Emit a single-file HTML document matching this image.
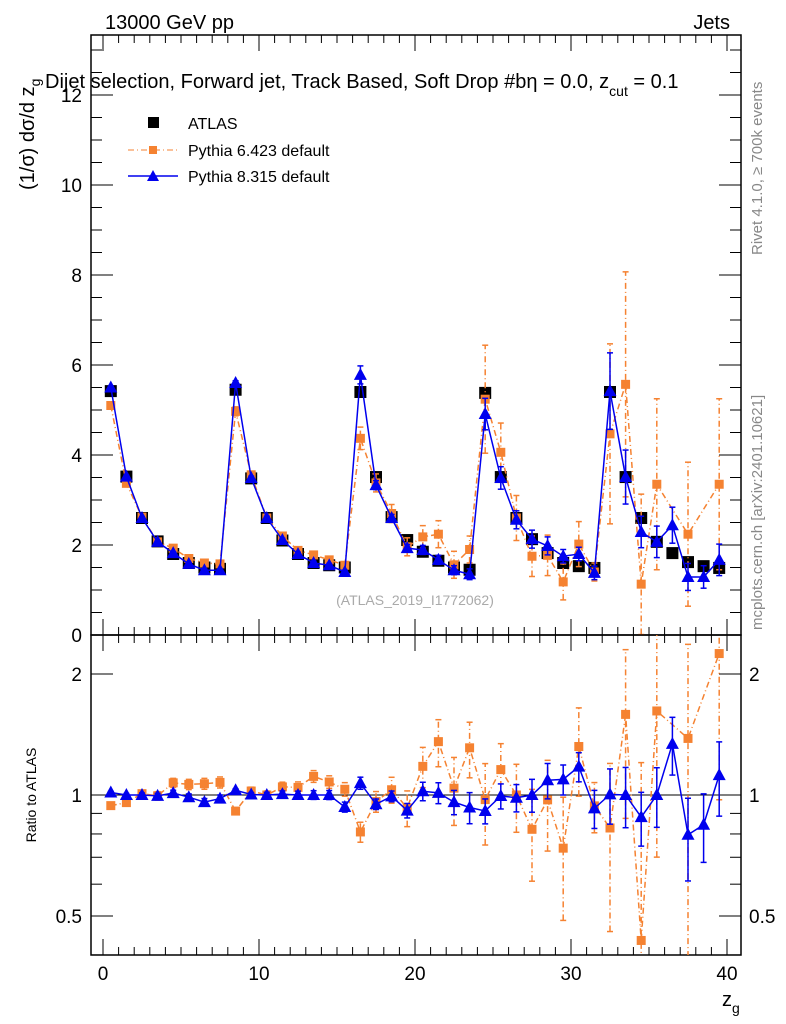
<!DOCTYPE html>
<html><head><meta charset="utf-8"><style>
html,body{margin:0;padding:0;background:#fff;overflow:hidden;width:786px;height:1024px;}
svg{display:block;font-family:"Liberation Sans",sans-serif;}
</style></head><body>
<svg id="chart" width="786" height="1024" viewBox="0 0 786 1024">
<defs id="defs"></defs>
<rect width="786" height="1024" fill="#fff"/>
<text x="105" y="29" font-size="20">13000 GeV pp</text>
<text x="730" y="29" font-size="20" text-anchor="end">Jets</text>
<g id="main"></g>
<g id="ratio"></g>
<text x="45" y="88" font-size="20">Dijet selection, Forward jet, Track Based, Soft Drop #b<tspan>η</tspan> = 0.0, z<tspan font-size="14" dy="8">cut</tspan><tspan dy="-8"> = 0.1</tspan></text>
<text transform="translate(34,190) rotate(-90)" font-size="20">(1/σ) dσ/d z<tspan font-size="14" dy="6">g</tspan></text>
<text transform="translate(36,795) rotate(-90)" font-size="14" text-anchor="middle">Ratio to ATLAS</text>
<text x="722" y="1006" font-size="20">z<tspan font-size="14" dy="7">g</tspan></text>
<text transform="translate(762,255) rotate(-90)" font-size="15" fill="#888">Rivet 4.1.0, ≥ 700k events</text>
<text transform="translate(762,630) rotate(-90)" font-size="15" fill="#888">mcplots.cern.ch [arXiv:2401.10621]</text>
<text x="415" y="605" font-size="14" fill="#aaa" text-anchor="middle">(ATLAS_2019_I1772062)</text>
<g>
<rect x="148" y="117" width="11" height="11" fill="#000"/>
<text x="188" y="129" font-size="16">ATLAS</text>
<line x1="128" y1="150" x2="178" y2="150" stroke="#f58231" stroke-dasharray="6,3,1,3"/>
<rect x="149" y="146" width="8" height="8" fill="#f58231"/>
<text x="188" y="156" font-size="16">Pythia 6.423 default</text>
<line x1="128" y1="176" x2="178" y2="176" stroke="#0000ee" stroke-width="1.5"/>
<path d="M153,170 L159,181 L147,181 Z" fill="#0000ee"/>
<text x="188" y="182" font-size="16">Pythia 8.315 default</text>
</g>
</svg>
<script>
const xCenters = [0.5,1.5,2.5,3.5,4.5,5.5,6.5,7.5,8.5,9.5,10.5,11.5,12.5,13.5,14.5,15.5,16.5,17.5,18.5,19.5,20.5,21.5,22.5,23.5,24.5,25.5,26.5,27.5,28.5,29.5,30.5,31.5,32.5,33.5,34.5,35.5,36.5,37.5,38.5,39.5];
const atlasVals = [5.42,3.52,2.6,2.08,1.8,1.6,1.5,1.47, 5.45,3.48,2.6,2.1,1.8,1.6,1.55,1.5, 5.4,3.51,2.62,2.11,1.85,1.65,1.5,1.45, 5.38,3.51,2.6,2.13,1.82,1.6,1.53,1.49, 5.4,3.51,2.6,2.07,1.82,1.62,1.53,1.49];
const py6Vals = [5.1,3.37,2.62,2.07,1.93,1.7,1.6,1.58, 4.97,3.56,2.6,2.2,1.88,1.78,1.67,1.55, 4.37,3.38,2.7,1.96,2.18,2.24,1.56,1.9, 5.24,4.06,2.6,1.75,1.77,1.18,2.02,1.4, 4.47,5.57,1.13,3.35,null,2.24,null,3.35];
const py6Errs = [0.05,0.05,0.05,0.05,0.05,0.05,0.05,0.05, 0.1,0.08,0.06,0.06,0.06,0.06,0.06,0.06, 0.25,0.2,0.2,0.2,0.25,0.3,0.3,0.3, 1.2,0.65,0.5,0.45,0.45,0.4,0.5,0.2, 2.0,2.5,2.0,1.9,0,1.6,0,1.9];
const py8Vals = [5.5,3.52,2.6,2.07,1.82,1.58,1.44,1.44, 5.6,3.49,2.6,2.11,1.8,1.6,1.55,1.4, 5.78,3.33,2.6,1.93,1.89,1.67,1.44,1.35, 4.91,3.49,2.56,2.13,1.98,1.75,1.8,1.38, 5.42,3.51,2.29,2.07,2.44,1.29,1.29,1.67];
const py8Errs = [0.03,0.03,0.03,0.03,0.03,0.03,0.03,0.03, 0.05,0.04,0.04,0.04,0.04,0.04,0.04,0.04, 0.2,0.1,0.08,0.08,0.1,0.1,0.1,0.12, 0.35,0.25,0.2,0.2,0.2,0.15,0.15,0.15, 0.85,0.6,0.35,0.35,0.4,0.3,0.25,0.35];
const mainTicks = [0,2,4,6,8,10,12];
const ratioTicks = [0.5,1,2];
const xTicks = [0,10,20,30,40];

const NS="http://www.w3.org/2000/svg";
const L=91,R=741,MT=35,MB=635,RT=635,RB=955;
const sx=x=>103+15.6*x;
const sy=v=>635-45*v;
const sr=v=>795-121*Math.log2(v);
function mk(parent,tag,attrs){const e=document.createElementNS(NS,tag);for(const k in attrs)e.setAttribute(k,attrs[k]);parent.appendChild(e);return e;}
const main=document.getElementById('main'), ratio=document.getElementById('ratio'), defs=document.getElementById('defs');

function frame(g,top,bot,name){
  const r=mk(g,'rect',{x:L,y:top,width:R-L,height:bot-top,fill:'none',stroke:'#000','stroke-width':1.5});
  
  
  for(let x=0;x<=40;x++){
    const len=(x%10===0)?16:8;
    mk(g,'line',{x1:sx(x),x2:sx(x),y1:bot,y2:bot-len,stroke:'#000'});
    mk(g,'line',{x1:sx(x),x2:sx(x),y1:top,y2:top+len,stroke:'#000'});
  }
}
frame(main,MT,MB,'main-frame');
frame(ratio,RT,RB,'ratio-frame');
for(let v=0;v<=13;v+=0.5){
  const len=(v%2===0)?22:11;
  mk(main,'line',{x1:L,x2:L+len,y1:sy(v),y2:sy(v),stroke:'#000'});
  mk(main,'line',{x1:R,x2:R-len,y1:sy(v),y2:sy(v),stroke:'#000'});
}
mainTicks.forEach(v=>{
  const t=mk(main,'text',{x:82,y:sy(v)+7,'font-size':19,'text-anchor':'end'});t.textContent=v;
  
  
});
[0.4,0.5,0.6,0.7,0.8,0.9,1,2].forEach(v=>{
  const len=(v===0.5||v===1||v===2)?22:11;
  mk(ratio,'line',{x1:L,x2:L+len,y1:sr(v),y2:sr(v),stroke:'#000'});
  mk(ratio,'line',{x1:R,x2:R-len,y1:sr(v),y2:sr(v),stroke:'#000'});
});
ratioTicks.forEach(v=>{
  const t=mk(ratio,'text',{x:82,y:sr(v)+7,'font-size':19,'text-anchor':'end'});t.textContent=v;
  
  
  const t2=mk(ratio,'text',{x:749,y:sr(v)+7,'font-size':19});t2.textContent=v;
  
  
});
xTicks.forEach(v=>{
  const t=mk(ratio,'text',{x:sx(v),y:980,'font-size':19,'text-anchor':'middle'});t.textContent=v;
  
  
});
const one=mk(ratio,'line',{x1:L,x2:R,y1:sr(1),y2:sr(1),stroke:'#000'});



const clipM=mk(defs,'clipPath',{id:'cm'});mk(clipM,'rect',{x:L,y:MT,width:R-L,height:MB-MT});
const clipR=mk(defs,'clipPath',{id:'cr'});mk(clipR,'rect',{x:L,y:RT,width:R-L,height:RB-RT});

function series(g,clip,vals,errs,fy,color,dash,marker,name){
  const s=mk(g,'g',{'clip-path':'url(#'+clip+')'});
  
  
  if(errs) vals.forEach((v,i)=>{
    if(v===null) return;
    const e=errs[i];const x=sx(xCenters[i]);
    const lo=fy(Math.max(v-e,0.01)), hi=fy(v+e);
    mk(s,'line',{x1:x,x2:x,y1:lo,y2:hi,stroke:color,'stroke-width':1.5,'stroke-dasharray':dash||'none'});
    mk(s,'line',{x1:x-3,x2:x+3,y1:lo,y2:lo,stroke:color,'stroke-width':1.5});
    mk(s,'line',{x1:x-3,x2:x+3,y1:hi,y2:hi,stroke:color,'stroke-width':1.5});
  });
  if(marker!=='sq'){
    const pts=vals.map((v,i)=>v===null?null:sx(xCenters[i])+','+fy(v)).filter(p=>p).join(' ');
    mk(s,'polyline',{points:pts,fill:'none',stroke:color,'stroke-width':1.5,'stroke-dasharray':dash||'none'});
  }
  vals.forEach((v,i)=>{
    if(v===null) return;
    const x=sx(xCenters[i]),y=fy(v);let m;
    if(marker==='sq') m=mk(s,'rect',{x:x-6,y:y-6,width:12,height:12,fill:'#000'});
    else if(marker==='osq') m=mk(s,'rect',{x:x-4.5,y:y-4.5,width:9,height:9,fill:color});
    else m=mk(s,'path',{d:`M${x},${y-7}L${x+6.5},${y+5}L${x-6.5},${y+5}Z`,fill:color});
    
    
  });
}
series(main,'cm',atlasVals,null,sy,'#000',null,'sq','atlas-data');
series(main,'cm',py6Vals,py6Errs,sy,'#f58231','6,3,1,3','osq','pythia6-series');
series(main,'cm',py8Vals,py8Errs,sy,'#0000ee',null,'tri','pythia8-series');
const r6=py6Vals.map((v,i)=>v===null?null:v/atlasVals[i]), r6e=py6Errs.map((e,i)=>e/atlasVals[i]);
const r8=py8Vals.map((v,i)=>v/atlasVals[i]), r8e=py8Errs.map((e,i)=>e/atlasVals[i]);
series(ratio,'cr',r6,r6e,sr,'#f58231','6,3,1,3','osq','pythia6-ratio');
series(ratio,'cr',r8,r8e,sr,'#0000ee',null,'tri','pythia8-ratio');
</script>
</body></html>
